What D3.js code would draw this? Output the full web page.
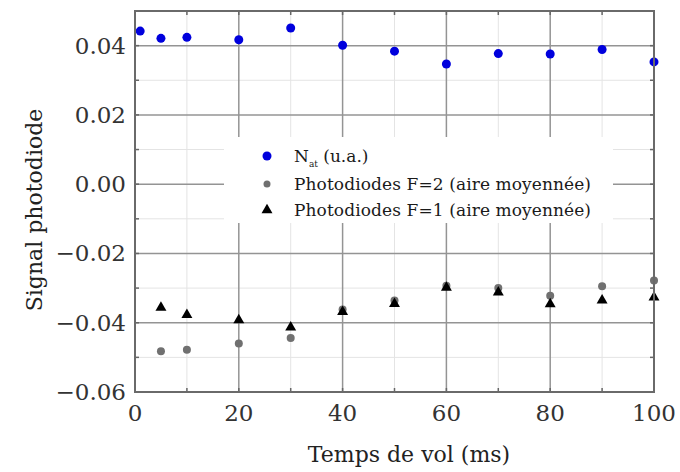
<!DOCTYPE html>
<html><head><meta charset="utf-8">
<script src="https://cdn.jsdelivr.net/npm/d3@7"></script>
<style>body{margin:0;background:#fff}svg{display:block}</style>
</head><body>
<svg id="c" width="680" height="472"></svg>
<script>
const tNat = [1, 5, 10, 20, 30, 40, 50, 60, 70, 80, 90, 100];
const vNat = [0.0442, 0.0421, 0.0424, 0.0417, 0.0451, 0.0401, 0.0384, 0.0347, 0.0377, 0.0376, 0.0389, 0.0353];
const tPD = [5, 10, 20, 30, 40, 50, 60, 70, 80, 90, 100];
const vF2 = [-0.0482, -0.0478, -0.0460, -0.0444, -0.0362, -0.0336, -0.0293, -0.0300, -0.0322, -0.0295, -0.0278];
const vF1 = [-0.0355, -0.0376, -0.0391, -0.0412, -0.0367, -0.0344, -0.0297, -0.0311, -0.0345, -0.0334, -0.0325];
const xTicks = [0, 20, 40, 60, 80, 100];
const yTicks = [-0.06, -0.04, -0.02, 0.00, 0.02, 0.04];
const legendLabels = ["N", "Photodiodes F=2 (aire moyennée)", "Photodiodes F=1 (aire moyennée)"];

const svg = d3.select("#c");
const L = 135, R = 654, T = 11, B = 392;
const x = d3.scaleLinear().domain([0, 100]).range([L, R]);
const y = d3.scaleLinear().domain([-0.06, 0.05]).range([B, T]);
const font = "DejaVu Serif";

// grid
const g = svg.append("g");
const xMinor = d3.range(10, 100, 20), xMajor = [20, 40, 60, 80];
const yMinor = [-0.05, -0.03, -0.01, 0.01, 0.03], yMajor = [-0.04, -0.02, 0.00, 0.02, 0.04];
g.selectAll(".vx").data(xMinor).join("line").attr("x1", d => x(d)).attr("x2", d => x(d))
  .attr("y1", T).attr("y2", B).attr("stroke", "#e4e4e4").attr("stroke-width", 1);
g.selectAll(".hy").data(yMinor).join("line").attr("y1", d => y(d)).attr("y2", d => y(d))
  .attr("x1", L).attr("x2", R).attr("stroke", "#e4e4e4").attr("stroke-width", 1);
g.selectAll(".VX").data(xMajor).join("line").attr("x1", d => x(d)).attr("x2", d => x(d))
  .attr("y1", T).attr("y2", B).attr("stroke", "#949494").attr("stroke-width", 1.5);
g.selectAll(".HY").data(yMajor).join("line").attr("y1", d => y(d)).attr("y2", d => y(d))
  .attr("x1", L).attr("x2", R).attr("stroke", "#949494").attr("stroke-width", 1.5);

// legend background
svg.append("rect").attr("x", 224).attr("y", 137).attr("width", 389).attr("height", 86).attr("fill", "#fff");

// axes with inward ticks
const tickCol = "#666";
const xAll = d3.range(0, 101, 10), yAll = d3.range(-0.06, 0.0501, 0.01);
const tk = svg.append("g").attr("stroke", tickCol).attr("stroke-width", 1.5);
tk.selectAll(".tb").data(xAll).join("line").attr("x1", d => x(d)).attr("x2", d => x(d)).attr("y1", B).attr("y2", B - 4);
tk.selectAll(".tt").data(xAll).join("line").attr("x1", d => x(d)).attr("x2", d => x(d)).attr("y1", T).attr("y2", T + 4);
tk.selectAll(".tl").data(yAll).join("line").attr("y1", d => y(d)).attr("y2", d => y(d)).attr("x1", L).attr("x2", L + 4);
tk.selectAll(".tr").data(yAll).join("line").attr("y1", d => y(d)).attr("y2", d => y(d)).attr("x1", R).attr("x2", R - 4);

// data
svg.append("g").selectAll("circle").data(tPD.map((t, i) => [t, vF2[i]])).join("circle")
  .attr("cx", d => x(d[0])).attr("cy", d => y(d[1])).attr("r", 4).attr("fill", "#707070");
const tri = d3.symbol().type(d3.symbolTriangle).size(52);
svg.append("g").selectAll("path").data(tPD.map((t, i) => [t, vF1[i]])).join("path")
  .attr("d", tri).attr("transform", d => `translate(${x(d[0])},${y(d[1]) + 0.5})`).attr("fill", "#000");
svg.append("g").selectAll("circle").data(tNat.map((t, i) => [t, vNat[i]])).join("circle")
  .attr("cx", d => x(d[0])).attr("cy", d => y(d[1])).attr("r", 4.5).attr("fill", "#0000dd");

// frame
svg.append("rect").attr("x", L).attr("y", T).attr("width", R - L).attr("height", B - T)
  .attr("fill", "none").attr("stroke", "#6a6a6a").attr("stroke-width", 2);

// tick labels
const fmt = d => (d < 0 ? "\u2212" : "") + Math.abs(d).toFixed(2);
svg.append("g").selectAll("text").data(yTicks).join("text")
  .attr("x", 126).attr("y", d => y(d) + 8).attr("text-anchor", "end")
  .attr("font-family", font).attr("font-size", 23).attr("fill", "#333").text(fmt);
svg.append("g").selectAll("text").data(xTicks).join("text")
  .attr("x", d => x(d)).attr("y", 421).attr("text-anchor", "middle")
  .attr("font-family", font).attr("font-size", 23).attr("fill", "#333").text(d => d);

// axis titles
svg.append("text").attr("x", 409).attr("y", 462).attr("text-anchor", "middle")
  .attr("font-family", font).attr("font-size", 22).attr("fill", "#222").text("Temps de vol (ms)");
svg.append("text").attr("transform", "translate(42,210) rotate(-90)").attr("text-anchor", "middle")
  .attr("font-family", font).attr("font-size", 22).attr("fill", "#222").text("Signal photodiode");

// legend
const lx = 267, tx = 294, rows = [156, 184, 210];
svg.append("circle").attr("cx", lx).attr("cy", rows[0]).attr("r", 4.5).attr("fill", "#0000dd");
svg.append("circle").attr("cx", lx).attr("cy", rows[1]).attr("r", 3.5).attr("fill", "#707070");
svg.append("path").attr("d", tri).attr("transform", `translate(${lx},${rows[2]})`).attr("fill", "#000");
const lt = svg.append("g").attr("font-family", font).attr("font-size", 17).attr("fill", "#1a1a1a");
const t0 = lt.append("text").attr("x", tx).attr("y", rows[0] + 6);
t0.append("tspan").text(legendLabels[0]);
t0.append("tspan").attr("font-size", 9).attr("dy", 5).text("at");
t0.append("tspan").attr("dy", -5).text(" (u.a.)");
lt.append("text").attr("x", tx).attr("y", rows[1] + 6).attr("textLength", 297).text(legendLabels[1]);
lt.append("text").attr("x", tx).attr("y", rows[2] + 6).attr("textLength", 297).text(legendLabels[2]);
</script>
</body></html>
